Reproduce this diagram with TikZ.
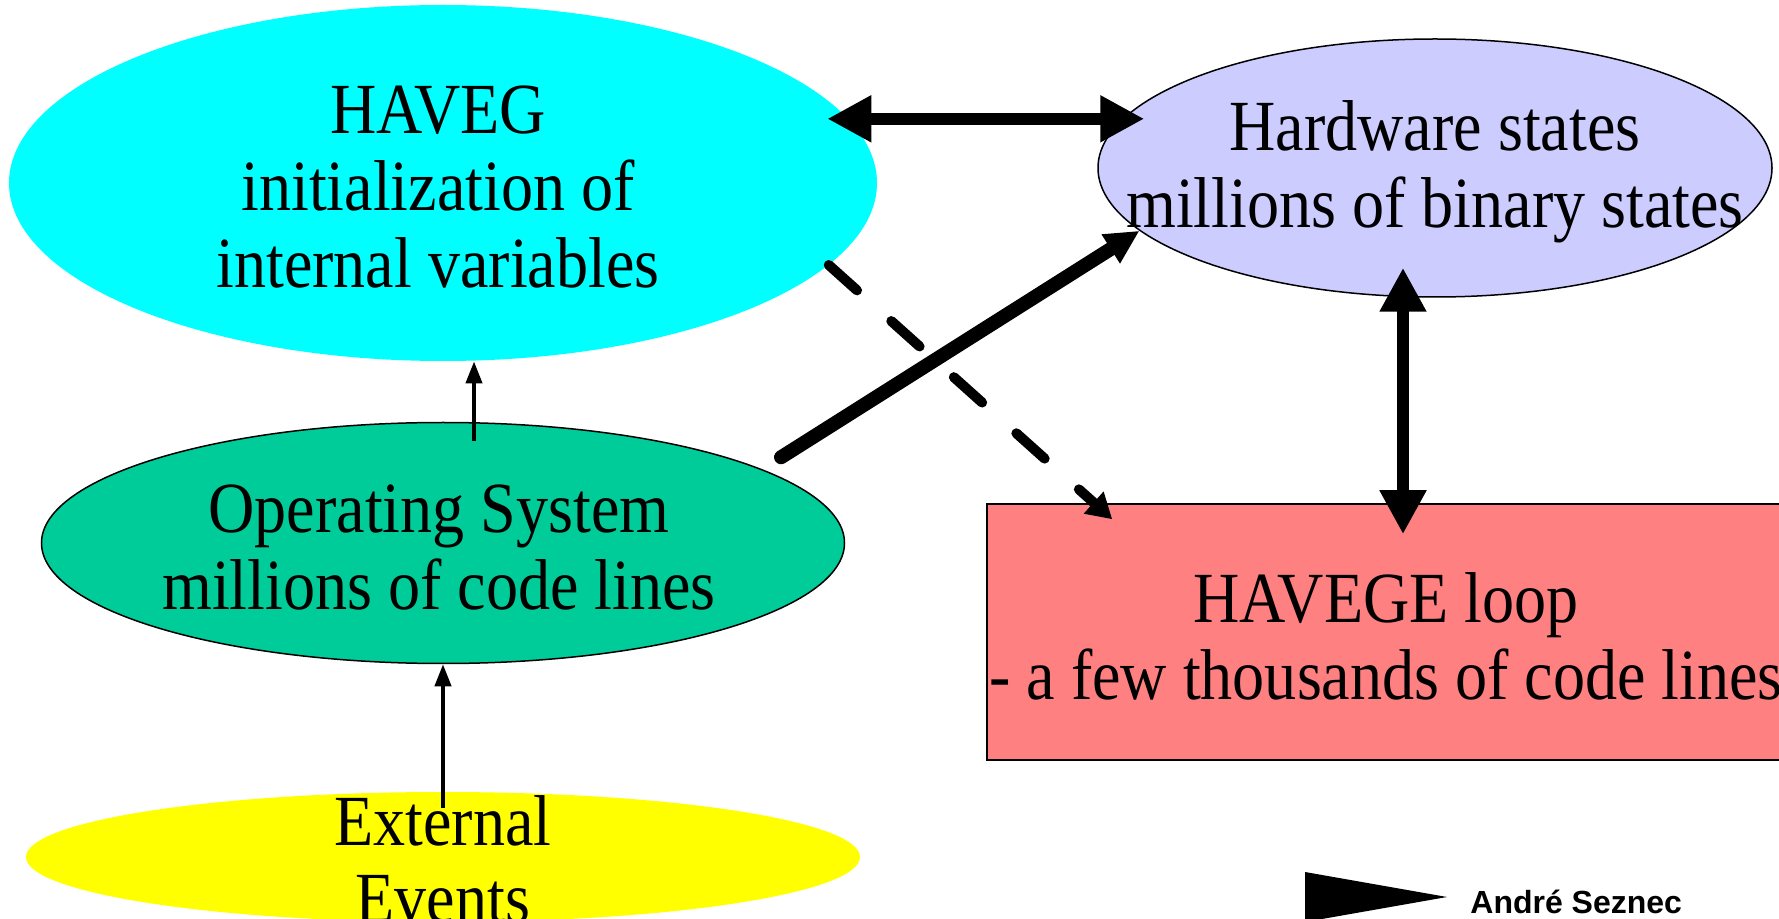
\documentclass[tikz,border=0pt]{standalone}
\usepackage{fontspec}
\setmainfont{Liberation Serif}[FakeStretch=0.89]
\newfontfamily\signfont{Liberation Sans}
\usetikzlibrary{shapes.geometric,arrows.meta}

\definecolor{havegcyan}{HTML}{00FFFF}
\definecolor{hwlilac}{HTML}{CCCCFF}
\definecolor{osgreen}{HTML}{00CC99}
\definecolor{eventyellow}{HTML}{FFFF00}
\definecolor{loopred}{HTML}{FF8080}

\begin{document}
\begin{tikzpicture}[x=0.5pt, y=-0.5pt,
    every node/.style={inner sep=0pt},
    blob/.style={ellipse},
    rim/.style={draw=black, line width=0.75pt},
    words/.style={align=center, font=\fontsize{36}{38.5}\selectfont},
    twoway/.style={line width=6pt, {Triangle[length=22pt,width=22pt]}-{Triangle[length=22pt,width=22pt]}},
    fat/.style={line width=7pt, line cap=round, -{Triangle[length=17pt,width=16pt]}},
    dashy/.style={line width=5pt, line cap=round, dash pattern=on 19pt off 23pt, -{Triangle[length=12.5pt,width=14pt]}},
    thin/.style={line width=2pt, -{Triangle[length=11pt,width=8pt]}}]

  \useasboundingbox (0,0) rectangle (1779,919);

  \node[blob, fill=havegcyan, minimum width=434pt, minimum height=178pt] (haveg) at (443,183) {};
  \node[blob, rim, fill=hwlilac, minimum width=337pt, minimum height=129pt] (hw) at (1435,168) {};
  \node[blob, rim, fill=osgreen, minimum width=401.5pt, minimum height=120.5pt] (os) at (443,543) {};
  \node[blob, fill=eventyellow, minimum width=417pt, minimum height=65pt] (ext) at (443,857) {};
  \node[rectangle, rim, fill=loopred, minimum width=399pt, minimum height=128pt] (loop) at (1386,632) {};

  \node[words] (havegtxt) at ([xshift=-2.5pt,yshift=-2pt]haveg.center) {HAVEG\\initialization of\\internal variables};
  \node[words] (hwtxt) at ([yshift=-2pt]hw.center) {Hardware states\\millions of binary states};
  \node[words] (ostxt) at ([xshift=-2pt,yshift=-2.5pt]os.center) {Operating System\\millions of code lines};
  \node[words] (exttxt) at ([yshift=-1pt]ext.center) {External\\Events};
  \node[words] (looptxt) at ([yshift=-2pt]loop.center) {HAVEGE loop\\- a few thousands of code lines};

  \draw[twoway] ([xshift=-10.5pt]haveg.9) -- ([xshift=23.5pt]haveg.9 -| hw.west);
  \draw[twoway] ([xshift=-16pt,yshift=15pt]hw.south) -- ([xshift=-16pt,yshift=-15.5pt]hw.south |- loop.north);
  \draw[fat] ([yshift=10pt]os.11) -- (hw.192);
  \draw[dashy] (haveg.-12) -- ([xshift=63pt,yshift=-8pt]loop.north west);
  \draw[thin] ([xshift=15.5pt,yshift=-9.5pt]os.north) -- ([xshift=15.5pt]haveg.south);
  \draw[thin] ([yshift=-8pt]ext.north) -- (os.south);

  \fill (1305,872) -- (1447,897) -- (1305,922) -- cycle;
  \node[anchor=base west, font=\signfont\bfseries\fontsize{16}{18}\selectfont] (sign) at (1470,913) {André Seznec};
\end{tikzpicture}
\end{document}
